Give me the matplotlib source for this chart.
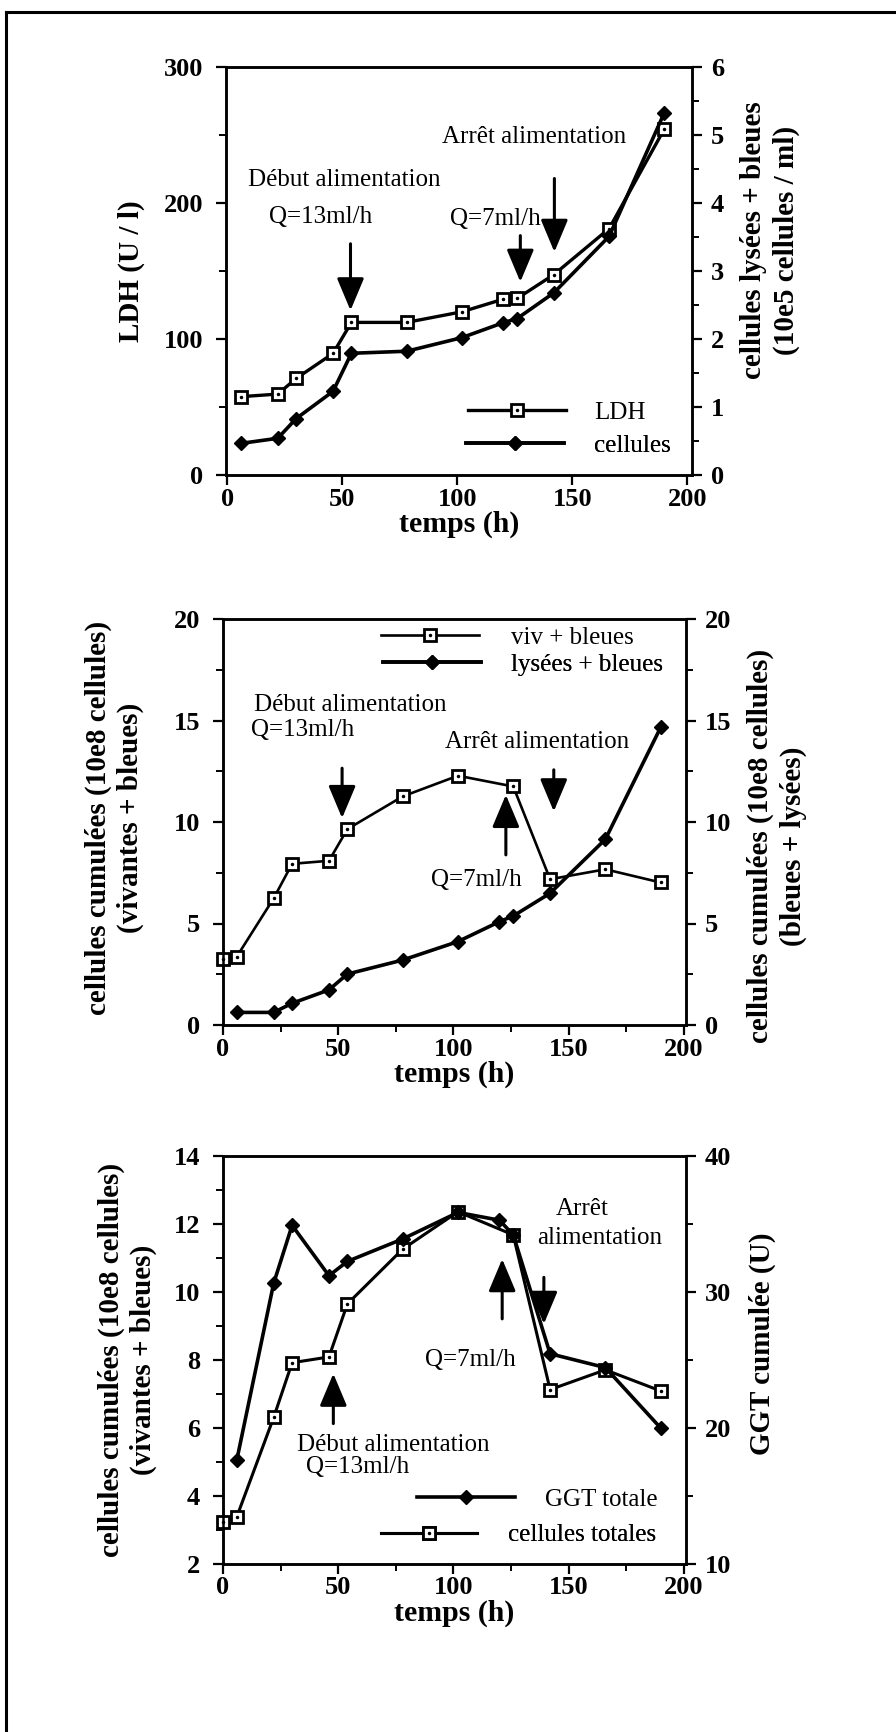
import matplotlib
matplotlib.use("Agg")
import matplotlib.pyplot as plt
from matplotlib.lines import Line2D
from matplotlib.ticker import MultipleLocator

# ---------------- data ----------------
# Panel 1 : LDH (left axis) and cellules lysées + bleues (right axis)
t_ldh = [6, 22, 30, 46, 54, 78, 102, 120, 126, 142, 166, 190]
ldh = [57.6, 59.5, 71, 89.4, 112.2, 112.2, 120, 129.3, 129.8, 147.4, 181.2, 254.5]
t_cel = [6, 22, 30, 46, 54, 78, 102, 120, 126, 142, 166, 190]
cellules = [0.465, 0.54, 0.83, 1.23, 1.79, 1.82, 2.02, 2.24, 2.30, 2.68, 3.51, 5.33]

# Panel 2 : cellules cumulées
t_viv = [0, 6, 22, 30, 46, 54, 78, 102, 126, 142, 166, 190]
viv_bleues = [3.24, 3.37, 6.24, 7.94, 8.09, 9.65, 11.26, 12.28, 11.75, 7.18, 7.67, 7.02]
t_lys = [6, 22, 30, 46, 54, 78, 102, 120, 126, 142, 166, 190]
lys_bleues = [0.62, 0.62, 1.07, 1.73, 2.51, 3.2, 4.11, 5.09, 5.37, 6.49, 9.15, 14.66]

# Panel 3 : cellules totales (left) and GGT totale (right)
t_tot = [0, 6, 22, 30, 46, 54, 78, 102, 126, 142, 166, 190]
cel_totales = [3.25, 3.39, 6.31, 7.92, 8.09, 9.65, 11.26, 12.36, 11.68, 7.13, 7.71, 7.09]
t_ggt = [6, 22, 30, 46, 54, 78, 102, 120, 126, 142, 166, 190]
ggt = [17.65, 30.64, 34.9, 31.2, 32.25, 33.9, 35.85, 35.28, 34.2, 25.46, 24.44, 20.0]

x_ticklabels = ["0", "50", "100", "150", "200"]

# ---------------- style ----------------
W, H, DPI = 896, 1732, 100
plt.rcParams["font.family"] = ["Liberation Serif", "DejaVu Serif"]
plt.rcParams["font.weight"] = "bold"
plt.rcParams["axes.labelweight"] = "bold"
plt.rcParams["axes.linewidth"] = 1.8

TICK_FS = 19
LAB_FS = 21
XLAB_FS = 21.5
ANN_FS = 18
LEG_FS = 18
NORMAL = dict(fontweight="normal", fontsize=ANN_FS, ha="center", va="center")

fig = plt.figure(figsize=(W / DPI, H / DPI), dpi=DPI)

def px_axes(left, top, right, bottom):
    return fig.add_axes([left / W, 1 - bottom / H, (right - left) / W, (bottom - top) / H])

def style_axis(ax, side):
    ax.tick_params(which="major", direction="out", length=7.5, width=1.6, labelsize=TICK_FS)
    ax.tick_params(which="minor", direction="out", length=5, width=1.4)
    if side == "left":
        ax.tick_params(axis="y", which="both", pad=9)
    else:
        ax.tick_params(axis="y", which="both", pad=6)
    ax.tick_params(axis="x", which="both", pad=1.5)

def sq_line(ax, x, y, lw=2.0):
    l1, = ax.plot(x, y, color="black", lw=lw, marker="s", ms=8, mfc="white", mec="black",
                  mew=2.0, clip_on=False, zorder=3)
    l2, = ax.plot(x, y, ls="none", marker=".", ms=3, color="black", clip_on=False, zorder=4)
    return (l1, l2)

def dia_line(ax, x, y, lw=2.6):
    l, = ax.plot(x, y, color="black", lw=lw, marker="D", ms=7, mfc="black", mec="black",
                 clip_on=False, zorder=3)
    return l

def arrow(ax, x, y0, y1):
    ax.annotate("", xy=(x, y1), xytext=(x, y0),
                arrowprops=dict(arrowstyle="-|>,head_length=1.0,head_width=0.42",
                                lw=2.2, color="black", shrinkA=0, shrinkB=0,
                                mutation_scale=20))

def entry(ax_host, ax_data, handle, label, x0, y, length, gap):
    pos = ax_data.get_position()
    xl = ax_data.get_xlim()
    ppu = W * pos.width / (xl[1] - xl[0])
    fs_px = LEG_FS * DPI / 72
    leg = ax_host.legend([handle], [label], loc="center left", bbox_to_anchor=(x0, y),
                         bbox_transform=ax_data.transData, frameon=False, borderpad=0,
                         borderaxespad=0, handlelength=length * ppu / fs_px,
                         handletextpad=gap * ppu / fs_px,
                         prop=dict(family="Liberation Serif", weight="normal", size=LEG_FS))
    ax_host.add_artist(leg)

# ---------------- Panel 1 ----------------
ax1 = px_axes(226, 67, 692, 475)
ax1r = ax1.twinx()
ax1.set_xlim(-0.5, 202)
ax1.set_ylim(0, 300)
ax1r.set_ylim(0, 6)
ax1.set_xticks([0, 50, 100, 150, 200], x_ticklabels)
ax1.yaxis.set_major_locator(MultipleLocator(100))
ax1.yaxis.set_minor_locator(MultipleLocator(50))
ax1r.yaxis.set_major_locator(MultipleLocator(1))
ax1r.yaxis.set_minor_locator(MultipleLocator(0.5))
style_axis(ax1, "left")
style_axis(ax1r, "right")

h_ldh = sq_line(ax1, t_ldh, ldh, lw=2.4)
h_cel = dia_line(ax1r, t_cel, cellules, lw=2.6)

ax1.set_xlabel("temps (h)", fontsize=XLAB_FS, labelpad=0)
ax1.set_ylabel("LDH (U / l)", fontsize=LAB_FS)
ax1.yaxis.set_label_coords(-0.204, 0.5)
ax1.yaxis.label.set_va("center")
ax1r.set_ylabel("cellules lysées + bleues\n(10e5 cellules / ml)", fontsize=LAB_FS,
                linespacing=1.25)
ax1r.yaxis.set_label_coords(1.167, 0.575)
ax1r.yaxis.label.set_va("center")

ax1.text(50.9, 216.7, "Début alimentation", **NORMAL)
ax1.text(40.8, 189.8, "Q=13ml/h", **NORMAL)
ax1.text(116.4, 188.6, "Q=7ml/h", **NORMAL)
ax1.text(133.4, 248.6, "Arrêt alimentation", **NORMAL)
arrow(ax1, 53.6, 170, 121)
arrow(ax1, 127.4, 176, 142)
arrow(ax1, 142.2, 218, 164)

entry(ax1r, ax1, h_ldh, "LDH", 104.6, 46, 42.5, 12.6)
entry(ax1r, ax1, h_cel, "cellules", 104.0, 21.5, 42.5, 13.0)

# ---------------- Panel 2 ----------------
ax2 = px_axes(223, 619, 686, 1025)
ax2r = ax2.twinx()
ax2.set_xlim(0, 201)
ax2.set_ylim(0, 20)
ax2r.set_ylim(0, 20)
ax2.set_xticks([0, 50, 100, 150, 200], x_ticklabels)
ax2.xaxis.set_minor_locator(MultipleLocator(25))
for a in (ax2, ax2r):
    a.yaxis.set_major_locator(MultipleLocator(5))
    a.yaxis.set_minor_locator(MultipleLocator(2.5))
style_axis(ax2, "left")
style_axis(ax2r, "right")

h_viv = sq_line(ax2, t_viv, viv_bleues, lw=1.9)
h_lys = dia_line(ax2r, t_lys, lys_bleues, lw=2.6)

ax2.set_xlabel("temps (h)", fontsize=XLAB_FS, labelpad=0)
ax2.set_ylabel("cellules cumulées (10e8 cellules)\n(vivantes + bleues)", fontsize=LAB_FS,
               linespacing=1.25)
ax2.yaxis.set_label_coords(-0.235, 0.51)
ax2.yaxis.label.set_va("center")
ax2r.set_ylabel("cellules cumulées (10e8 cellules)\n(bleues + lysées)", fontsize=LAB_FS,
                linespacing=1.25)
ax2r.yaxis.set_label_coords(1.196, 0.44)
ax2r.yaxis.label.set_va("center")

ax2.text(55.3, 15.78, "Début alimentation", **NORMAL)
ax2.text(34.5, 14.54, "Q=13ml/h", **NORMAL)
ax2.text(136.3, 13.92, "Arrêt alimentation", **NORMAL)
ax2.text(109.8, 7.15, "Q=7ml/h", **NORMAL)
arrow(ax2, 51.7, 12.65, 10.19)
arrow(ax2, 143.6, 12.57, 10.52)
arrow(ax2, 122.8, 8.38, 11.34)

entry(ax2r, ax2, h_viv, "viv + bleues", 68.6, 19.08, 42.6, 13.8)
entry(ax2r, ax2, h_lys, "lysées + bleues", 69.5, 17.75, 42.5, 13.0)

# ---------------- Panel 3 ----------------
ax3 = px_axes(223, 1156, 686, 1564)
ax3r = ax3.twinx()
ax3.set_xlim(0, 201)
ax3.set_ylim(2, 14)
ax3r.set_ylim(10, 40)
ax3.set_xticks([0, 50, 100, 150, 200], x_ticklabels)
ax3.xaxis.set_minor_locator(MultipleLocator(25))
ax3.yaxis.set_major_locator(MultipleLocator(2))
ax3.yaxis.set_minor_locator(MultipleLocator(1))
ax3r.yaxis.set_major_locator(MultipleLocator(10))
ax3r.yaxis.set_minor_locator(MultipleLocator(5))
style_axis(ax3, "left")
style_axis(ax3r, "right")

h_tot = sq_line(ax3, t_tot, cel_totales, lw=2.2)
h_ggt = dia_line(ax3r, t_ggt, ggt, lw=2.6)

ax3.set_xlabel("temps (h)", fontsize=XLAB_FS, labelpad=0)
ax3.set_ylabel("cellules cumulées (10e8 cellules)\n(vivantes + bleues)", fontsize=LAB_FS,
               linespacing=1.25)
ax3.yaxis.set_label_coords(-0.207, 0.5)
ax3.yaxis.label.set_va("center")
ax3r.set_ylabel("GGT cumulée (U)", fontsize=LAB_FS)
ax3r.yaxis.set_label_coords(1.164, 0.54)
ax3r.yaxis.label.set_va("center")

ax3.text(156.1, 12.44, "Arrêt", **NORMAL)
ax3.text(163.5, 11.6, "alimentation", **NORMAL)
ax3.text(107.3, 7.99, "Q=7ml/h", **NORMAL)
ax3.text(73.7, 5.5, "Début alimentation", **NORMAL)
ax3.text(58.5, 4.86, "Q=13ml/h", **NORMAL)
arrow(ax3, 139.3, 10.43, 9.06)
arrow(ax3, 121.2, 9.21, 10.97)
arrow(ax3, 47.9, 6.13, 7.6)

entry(ax3r, ax3, h_ggt, "GGT totale", 84.2, 3.9, 42.4, 13.4)
entry(ax3r, ax3, h_tot, "cellules totales", 68.4, 2.85, 42.0, 13.2)

# ---------------- page frame ----------------
fig.add_artist(Line2D([6 / W, 6 / W], [0, 1 - 12 / H], transform=fig.transFigure,
                      color="black", lw=2.2))
fig.add_artist(Line2D([6 / W, 1], [1 - 12 / H, 1 - 12 / H], transform=fig.transFigure,
                      color="black", lw=2.2))

fig.savefig("out.png", dpi=DPI, facecolor="white")
